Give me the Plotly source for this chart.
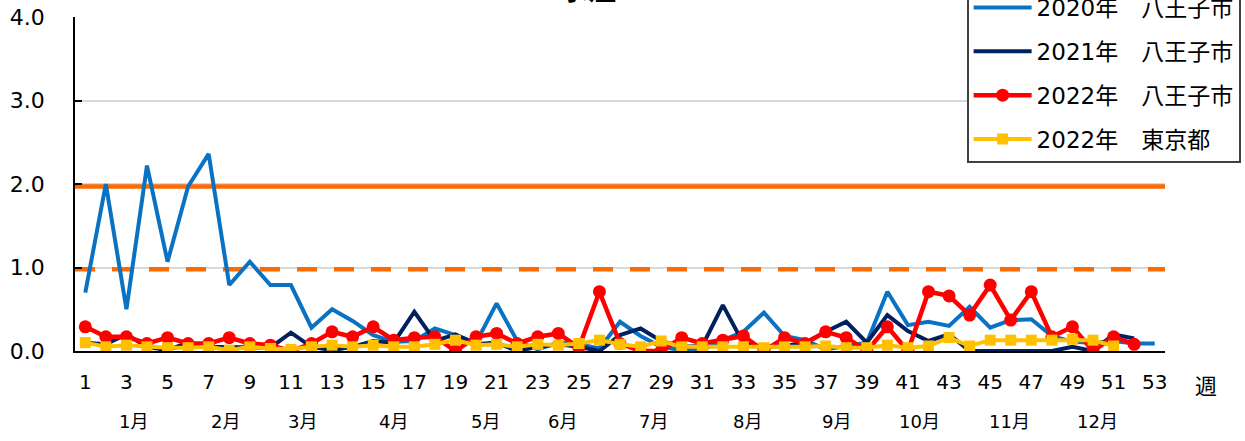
import plotly.graph_objects as go

weeks = list(range(1, 54))

v2020 = [0.70, 2.00, 0.50, 2.22, 1.07, 1.97, 2.36, 0.79, 1.07, 0.79,
         0.79, 0.28, 0.50, 0.36, 0.19, 0.11, 0.12, 0.27, 0.19, 0.10,
         0.57, 0.12, 0.02, 0.10, 0.08, 0.03, 0.35, 0.18, 0.05, 0.01,
         0.01, 0.13, 0.23, 0.46, 0.18, 0.13, 0.02, 0.06, 0.10, 0.71,
         0.31, 0.35, 0.30, 0.53, 0.28, 0.37, 0.38, 0.18, 0.11, 0.10,
         0.12, 0.09, 0.09]
v2021 = [0.10, 0.08, 0.20, 0.05, 0.01, 0.10, 0.05, 0.05, 0.05, 0.04,
         0.22, 0.05, 0.01, 0.05, 0.12, 0.10, 0.47, 0.12, 0.20, 0.08,
         0.10, 0.00, 0.05, 0.08, 0.05, 0.00, 0.19, 0.27, 0.12, 0.05,
         0.06, 0.55, 0.09, 0.05, 0.06, 0.10, 0.23, 0.35, 0.10, 0.43,
         0.24, 0.12, 0.20, 0.00, 0.00, 0.00, 0.00, 0.00, 0.05, 0.00,
         0.20, 0.15]
v2022 = [0.29, 0.17, 0.17, 0.09, 0.16, 0.09, 0.09, 0.16, 0.09, 0.07,
         0.00, 0.09, 0.23, 0.17, 0.29, 0.13, 0.16, 0.17, 0.00, 0.17,
         0.21, 0.09, 0.17, 0.21, 0.04, 0.71, 0.09, 0.00, 0.00, 0.16,
         0.09, 0.13, 0.18, 0.00, 0.16, 0.09, 0.23, 0.16, 0.00, 0.29,
         0.00, 0.71, 0.66, 0.43, 0.79, 0.37, 0.71, 0.17, 0.29, 0.00,
         0.17, 0.08]
vTokyo = [0.10, 0.05, 0.07, 0.05, 0.04, 0.04, 0.05, 0.01, 0.05, 0.03,
          0.02, 0.05, 0.07, 0.05, 0.07, 0.05, 0.05, 0.08, 0.13, 0.07,
          0.08, 0.05, 0.08, 0.07, 0.09, 0.13, 0.08, 0.05, 0.12, 0.05,
          0.05, 0.05, 0.05, 0.04, 0.05, 0.05, 0.06, 0.04, 0.04, 0.07,
          0.04, 0.06, 0.16, 0.06, 0.13, 0.13, 0.13, 0.13, 0.14, 0.13,
          0.06]

alert_start = 1.97
alert_end = 0.98

series_names = ["2020年　八王子市", "2021年　八王子市", "2022年　八王子市", "2022年　東京都"]
week_ticks = list(range(1, 54, 2))
month_labels = ["1月", "2月", "3月", "4月", "5月", "6月", "7月", "8月", "9月", "10月", "11月", "12月"]
month_pos = [3.36, 7.83, 11.54, 15.99, 20.45, 24.19, 28.65, 33.21, 37.53, 41.56, 45.93, 50.2]
y_ticks = [0, 1, 2, 3, 4]

FONT = "DejaVu Sans, Noto Sans CJK JP, sans-serif"
ORANGE = "#FF6A00"

fig = go.Figure()

fig.add_trace(go.Scatter(x=[0.5, 53.5], y=[alert_start, alert_start], mode="lines",
                         line=dict(color=ORANGE, width=4.5), showlegend=False, hoverinfo="skip"))
fig.add_trace(go.Scatter(x=[0.5, 53.5], y=[alert_end, alert_end], mode="lines",
                         line=dict(color=ORANGE, width=4.5, dash="20px,17px"), showlegend=False, hoverinfo="skip"))

fig.add_trace(go.Scatter(x=weeks[:len(v2020)], y=v2020, mode="lines", name=series_names[0],
                         legendgroup="a", line=dict(color="#0A72C2", width=4)))
fig.add_trace(go.Scatter(x=weeks[:len(v2021)], y=v2021, mode="lines", name=series_names[1],
                         legendgroup="b", line=dict(color="#002060", width=4)))
fig.add_trace(go.Scatter(x=weeks[:len(v2022)], y=v2022, mode="lines+markers", name=series_names[2],
                         legendgroup="c", line=dict(color="#FF0000", width=4.5),
                         marker=dict(symbol="circle", size=13, color="#FF0000")))
fig.add_trace(go.Scatter(x=weeks[:len(vTokyo)], y=vTokyo, mode="lines+markers", name=series_names[3],
                         legendgroup="d", line=dict(color="#FFC000", width=4),
                         marker=dict(symbol="square", size=11, color="#FFC000")))

annotations = []
for lab, pos in zip(month_labels, month_pos):
    annotations.append(dict(x=pos, y=-0.2096, xref="x", yref="paper", text=lab, showarrow=False,
                            xanchor="center", yanchor="middle",
                            font=dict(family=FONT, size=18, color="#000000")))
annotations.append(dict(x=1.0376, y=-0.105, xref="paper", yref="paper", text="週", showarrow=False,
                        xanchor="center", yanchor="middle",
                        font=dict(family=FONT, size=22, color="#000000")))
annotations.append(dict(x=0.4706, y=1.078, xref="paper", yref="paper", text="<b>水痘</b>", showarrow=False,
                        xanchor="center", yanchor="middle",
                        font=dict(family=FONT, size=28, color="#000000")))

fig.update_layout(
    width=1245, height=441,
    margin=dict(l=75, r=80, t=17, b=90, autoexpand=False),
    paper_bgcolor="white", plot_bgcolor="white",
    font=dict(family=FONT, color="#000000"),
    showlegend=True,
    legend=dict(x=0.818, y=0.563, xanchor="left", yanchor="bottom",
                bgcolor="white", bordercolor="#404040", borderwidth=2,
                font=dict(family=FONT, size=23, color="#000000"),
                itemwidth=58, tracegroupgap=11, traceorder="grouped",
                entrywidth=215, entrywidthmode="pixels"),
    annotations=annotations,
    xaxis=dict(range=[0.5, 53.5], tickmode="array", tickvals=week_ticks,
               ticktext=[str(w) for w in week_ticks], showgrid=False, zeroline=False,
               showline=True, linecolor="#000000", linewidth=1.5, ticks="",
               tickfont=dict(family=FONT, size=20, color="#000000"), ticklabelstandoff=12),
    yaxis=dict(range=[0, 4], tickmode="array", tickvals=y_ticks,
               ticktext=[f"{v:.1f}" for v in y_ticks], showgrid=True, gridcolor="#D9D9D9",
               gridwidth=1.5, zeroline=False, showline=True, linecolor="#000000", linewidth=1.5,
               ticks="inside", ticklen=7, tickcolor="#000000", tickwidth=1.5,
               tickfont=dict(family=FONT, size=22, color="#000000"), ticklabelstandoff=24),
)

fig.write_html("out.html", config={"displayModeBar": False},
               post_script="document.body.style.margin='0';")
